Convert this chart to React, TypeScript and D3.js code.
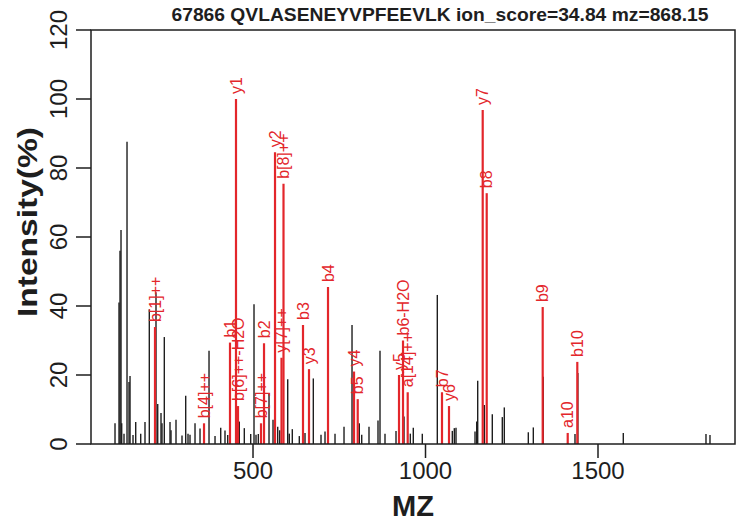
import * as d3 from "d3";

const width = 744;
const height = 527;
const margin = { top: 30, right: 9, bottom: 83, left: 91 };

const titleText = "67866 QVLASENEYVPFEEVLK ion_score=34.84 mz=868.15";
const xTicks = [500, 1000, 1500];
const yTicks = [0, 20, 40, 60, 80, 100, 120];

// all peaks (black)
const peakMz = [
  100.0, 111.6, 114.5, 117.4, 119.4, 126.1, 134.8, 140.6, 143.5, 152.2, 160.0,
  174.5, 186.9, 199.4, 218.8, 223.8, 233.3, 236.2, 242.9, 259.4, 262.3, 276.8,
  294.2, 304.9, 311.6, 317.4, 331.9, 346.4, 372.5, 389.9, 406.4, 418.8, 426.7,
  454.5, 460.3, 474.8, 493.3, 502.9, 508.7, 515.4, 546.4, 558.0, 571.6, 577.4,
  600.6, 605.2, 613.9, 634.2, 650.7, 674.8, 697.1, 708.7, 737.7, 763.8, 787.0,
  808.1, 815.1, 836.2, 862.3, 868.1, 882.6, 914.5, 937.7, 956.0, 964.6, 990.7,
  1034.2, 1077.7, 1083.5, 1088.4, 1143.5, 1148.4, 1151.3, 1170.5, 1193.6,
  1222.6, 1228.4, 1298.0, 1312.5, 1341.5, 1433.3, 1441.6, 1573.3, 1813.0, 1824.6,
];
const peakIntensity = [
  6, 41, 56, 62, 6, 3, 87.6, 18, 19.7, 2.6, 6.4,
  3, 6.4, 39, 44, 11.6, 9, 6, 31, 6.4, 4, 7,
  2.5, 14, 3, 2.7, 6, 4.5, 27, 2.3, 4.7, 3.9, 2.6,
  7, 6.5, 4.6, 2.9, 40.5, 2.7, 2.9, 14.8, 7, 5, 4,
  18.8, 3, 4.3, 2.3, 3.2, 19, 2.7, 3.6, 3, 5, 34.5,
  6, 2.7, 5, 6.8, 27, 3, 3.8, 8, 3, 4.7, 3,
  43.2, 3.8, 4.6, 4.7, 3.6, 6.5, 18.3, 11.3, 8.6,
  7.8, 10.6, 3.4, 4.8, 19.5, 2.9, 20.6, 3.2, 2.9, 2.6,
];

// matched ions (red)
const ionLabels = [
  "b[1]++", "b[4]++", "b1", "y1", "b[6]++-H2O", "b[7]++", "b2", "y2", "y[7]++",
  "b[8]++", "b3", "y3", "b4", "y4", "b5", "y5", "b6-H2O", "a[14]++", "b7", "y6",
  "y7", "b8", "b9", "a10", "b10",
];
const ionMz = [
  215.9, 358.0, 433.3, 450.7, 456.5, 523.2, 531.9, 563.8, 582.6,
  588.4, 644.9, 662.3, 717.4, 792.8, 803.5, 923.2, 934.8, 948.4, 1047.8, 1068.1,
  1165.8, 1177.4, 1339.7, 1412.2, 1440.0,
];
const ionIntensity = [
  33.9, 6, 29.4, 100, 11, 6, 29.2, 84.6, 25,
  75.4, 34.5, 21.7, 45.5, 21, 13, 20, 30, 15, 15, 11,
  96.8, 72.7, 39.7, 3.2, 23.8,
];

const font = "'Liberation Sans', Arial, Helvetica, sans-serif";
const red = "#e3262b";
const ink = "#1e1e1e";

export default function App() {
  const x = d3
    .scaleLinear()
    .domain([30.4, 1897.1])
    .range([margin.left, width - margin.right]);
  const y = d3
    .scaleLinear()
    .domain([0, 120])
    .range([height - margin.bottom, margin.top]);

  const x0 = margin.left;
  const x1 = width - margin.right;
  const y0 = height - margin.bottom;
  const y1 = margin.top;

  return (
    <svg
      width={width}
      height={height}
      style={{ position: "absolute", left: 0, top: 0, background: "#fff" }}
      fontFamily={font}
    >
      {/* title */}
      <text
        x={440}
        y={21}
        textAnchor="middle"
        fontSize={18}
        fontWeight="bold"
        fill={ink}
        textLength={537}
        lengthAdjust="spacingAndGlyphs"
      >
        {titleText}
      </text>

      {/* black peaks */}
      {peakMz.map((mz, i) => (
        <line
          key={"p" + i}
          x1={x(mz)}
          x2={x(mz)}
          y1={y(0)}
          y2={y(peakIntensity[i])}
          stroke={ink}
          strokeWidth={1.4}
        />
      ))}

      {/* annotated ions */}
      {ionMz.map((mz, i) => (
        <line
          key={"i" + i}
          x1={x(mz)}
          x2={x(mz)}
          y1={y(0)}
          y2={y(ionIntensity[i])}
          stroke={red}
          strokeWidth={2.2}
        />
      ))}
      {ionMz.map((mz, i) => (
        <text
          key={"l" + i}
          transform={`translate(${x(mz)},${y(ionIntensity[i]) - 5}) rotate(-90)`}
          dy="0.35em"
          fontSize={16}
          fill={red}
        >
          {ionLabels[i]}
        </text>
      ))}

      {/* box */}
      <rect
        x={x0}
        y={y1}
        width={x1 - x0}
        height={y0 - y1}
        fill="none"
        stroke={ink}
        strokeWidth={1.5}
      />

      {/* x axis */}
      {xTicks.map((t) => (
        <g key={"xt" + t}>
          <line x1={x(t)} x2={x(t)} y1={y0} y2={y0 + 14} stroke={ink} strokeWidth={1.5} />
          <text x={x(t)} y={y0 + 35} textAnchor="middle" fontSize={24} fill={ink}>
            {t}
          </text>
        </g>
      ))}
      <text
        x={(x0 + x1) / 2}
        y={516}
        textAnchor="middle"
        fontSize={29}
        fontWeight="bold"
        fill={ink}
        textLength={42}
        lengthAdjust="spacingAndGlyphs"
      >
        MZ
      </text>

      {/* y axis */}
      {yTicks.map((t) => (
        <g key={"yt" + t}>
          <line x1={x0 - 15} x2={x0} y1={y(t)} y2={y(t)} stroke={ink} strokeWidth={1.5} />
          <text
            transform={`translate(${x0 - 24},${y(t)}) rotate(-90)`}
            textAnchor="middle"
            fontSize={24}
            fill={ink}
          >
            {t}
          </text>
        </g>
      ))}
      <text
        transform={`translate(37,${(y0 + y1) / 2 - 15}) rotate(-90)`}
        textAnchor="middle"
        fontSize={28}
        fontWeight="bold"
        fill={ink}
        textLength={190}
        lengthAdjust="spacingAndGlyphs"
      >
        Intensity(%)
      </text>
    </svg>
  );
}
